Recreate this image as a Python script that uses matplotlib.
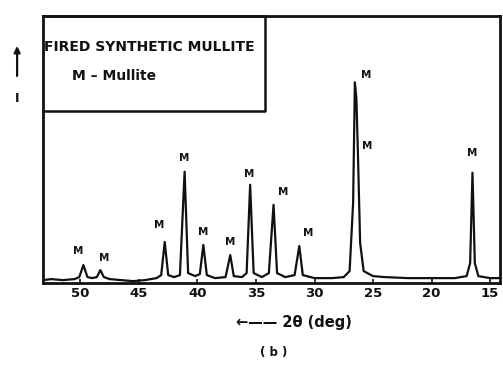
import matplotlib
matplotlib.use("Agg")
import matplotlib.pyplot as plt

# traced XRD pattern of fired synthetic mullite (2theta, intensity)
two_theta = [53.2, 52.5, 51.5, 50.5, 50.1, 49.75, 49.4, 49.0, 48.6, 48.3, 48.0, 47.5,
             46.5, 45.5, 44.5, 43.5, 43.1, 42.8, 42.5, 42.0, 41.5, 41.1, 40.8, 40.2,
             39.8, 39.5, 39.2, 38.5, 37.6, 37.2, 36.9, 36.2, 35.8, 35.5, 35.2, 34.5,
             33.9, 33.5, 33.2, 32.5, 31.7, 31.3, 31.0, 30.0, 28.5, 27.5, 27.0, 26.7,
             26.55, 26.42, 26.3, 26.1, 25.8, 25.0, 24.0, 22.0, 20.0, 18.0, 17.0, 16.7,
             16.5, 16.3, 16.0, 15.0, 14.15]
intensity = [1.5, 2.0, 1.5, 2.0, 3.0, 9.0, 3.0, 2.5, 3.0, 6.5, 3.0, 2.0,
             1.5, 1.0, 1.5, 2.5, 4.0, 20.5, 4.0, 3.0, 4.0, 55.5, 5.0, 3.5,
             4.5, 19.0, 4.0, 2.5, 3.0, 14.0, 3.5, 3.0, 5.0, 49.0, 5.0, 3.0,
             5.0, 39.0, 5.0, 3.0, 4.0, 18.5, 4.0, 2.5, 2.5, 3.0, 6.0, 40.0,
             100.0, 92.0, 67.0, 20.0, 6.0, 3.5, 3.0, 2.5, 2.5, 2.5, 3.5, 10.0,
             55.0, 10.0, 3.5, 2.5, 2.5]

# "M" peak labels (x, y)
label_x = [50.2, 48.0, 43.3, 41.1, 39.5, 37.2, 35.6, 32.7, 30.5, 25.6, 25.5, 16.5]
label_y = [13.5, 10.0, 26.5, 60.0, 23.0, 18.0, 52.0, 43.0, 22.5, 101.0, 66.0, 62.5]

xticks = [50, 45, 40, 35, 30, 25, 20, 15]

fig = plt.figure(figsize=(5.03, 3.75), dpi=100)
ax = fig.add_axes([0.0855, 0.245, 0.9085, 0.712])

ax.plot(two_theta, intensity, color="#111111", linewidth=1.6)

for lx, ly in zip(label_x, label_y):
    ax.text(lx, ly, "M", ha="center", va="bottom", fontsize=7.5,
            fontweight="bold", color="#111111")

ax.set_xlim(53.2, 14.15)
ax.set_ylim(0, 133)
ax.set_xticks(xticks)
ax.set_xticklabels([str(t) for t in xticks], fontsize=9.5, fontweight="bold")
ax.set_yticks([])
ax.tick_params(axis="x", direction="in", length=3, width=1.2, pad=3, colors="#111111")
for s in ax.spines.values():
    s.set_linewidth(2.0)
    s.set_color("#111111")

# legend box in the upper left corner
ax.plot([53.2, 34.2, 34.2, 53.2], [133, 133, 85.5, 85.5], color="#111111",
        linewidth=1.8, clip_on=False)
ax.text(53.1, 117.5, "FIRED SYNTHETIC MULLITE", fontsize=10, fontweight="bold",
        va="center", ha="left", color="#111111")
ax.text(50.7, 103, "M \u2013 Mullite", fontsize=10, fontweight="bold",
        va="center", ha="left", color="#111111")

# axis labels
fig.text(0.585, 0.14, "\u2190\u2014\u2014 2\u03b8 (deg)", fontsize=10.5, fontweight="bold",
         ha="center", va="center", color="#111111")
fig.text(0.545, 0.06, "( b )", fontsize=8.5, fontweight="bold",
         ha="center", va="center", color="#111111")
fig.patches.append(plt.matplotlib.patches.FancyArrowPatch(
    (0.034, 0.79), (0.034, 0.885), transform=fig.transFigure,
    arrowstyle="-|>", mutation_scale=9, linewidth=1.6, color="#111111"))
fig.text(0.034, 0.738, "I", fontsize=9, fontweight="bold",
         ha="center", va="center", color="#111111")

fig.savefig("out.png", dpi=100, facecolor="white")
